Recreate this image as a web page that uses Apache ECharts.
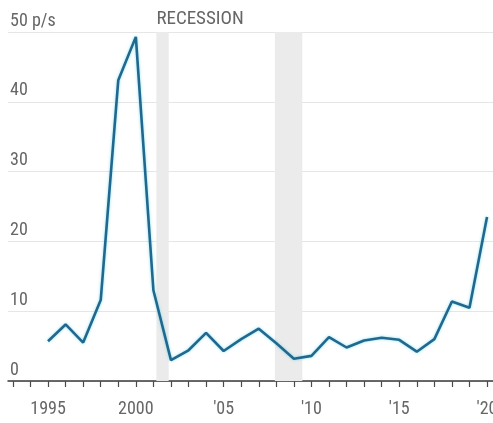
<!DOCTYPE html>
<html>
<head>
<meta charset="utf-8">
<script src="https://cdn.jsdelivr.net/npm/echarts@6/dist/echarts.min.js"></script>
<style>
  html, body { margin: 0; padding: 0; background: #fff; }
  #chart { width: 493px; height: 423px; }
</style>
</head>
<body>
<div id="chart"></div>
<script>
// Annual ratio, 1995-2020
const years = [1995, 1996, 1997, 1998, 1999, 2000, 2001, 2002, 2003, 2004, 2005, 2006, 2007,
               2008, 2009, 2010, 2011, 2012, 2013, 2014, 2015, 2016, 2017, 2018, 2019, 2020];
const ratio = [5.7, 8.1, 5.5, 11.6, 43.1, 49.3, 13.0, 3.0, 4.4, 6.9, 4.3, 6.0, 7.5,
               5.4, 3.2, 3.6, 6.3, 4.8, 5.8, 6.2, 5.9, 4.2, 6.0, 11.4, 10.5, 23.5];

// Recession periods (fractional years)
const recessions = [[2001.17, 2001.87], [2007.92, 2009.48]];

// Axis ticks and labels
const yearTicks = [];
for (let y = 1993; y <= 2020; y++) yearTicks.push(y);
const yearLabels = [1995, 2000, 2005, 2010, 2015, 2020];
const yTicks = [0, 10, 20, 30, 40, 50];

const FONT = '"Roboto Condensed", "Liberation Sans Narrow", sans-serif';

const chart = echarts.init(document.getElementById('chart'), null, { renderer: 'canvas' });

chart.setOption({
  animation: false,
  backgroundColor: '#ffffff',
  grid: { left: 8, right: 0, top: 32, bottom: 42, outerBoundsMode: 'none', containLabel: false },
  xAxis: {
    type: 'value',
    min: 1992.72,
    max: 2020.34,
    axisLine: { show: true, lineStyle: { color: '#3a3a3a', width: 1.5 } },
    axisTick: {
      show: true, length: 6, customValues: yearTicks,
      lineStyle: { color: '#4a4a4a', width: 1.2 }
    },
    axisLabel: {
      customValues: yearLabels,
      margin: 19,
      color: '#666666',
      fontFamily: FONT,
      fontSize: 18,
      hideOverlap: false,
      formatter: v => (v === 1995 || v === 2000) ? String(v) : "'" + String(v).slice(2)
    },
    splitLine: { show: false }
  },
  yAxis: {
    type: 'value',
    min: 0,
    max: 50,
    axisLine: { show: false },
    axisTick: { show: false },
    axisLabel: {
      customValues: yTicks,
      inside: true,
      margin: 2,
      verticalAlign: 'bottom',
      padding: [0, 0, 2, 0],
      color: '#666666',
      fontFamily: FONT,
      fontSize: 18,
      formatter: v => v === 50 ? '50 p/s' : String(v)
    },
    splitLine: { show: true, lineStyle: { color: '#e6e6e6', width: 1 } }
  },
  series: [{
    type: 'line',
    data: years.map((y, i) => [y, ratio[i]]),
    showSymbol: false,
    lineStyle: {
      color: '#22688e',
      width: 2.6,
      shadowColor: 'rgba(40, 200, 230, 0.55)',
      shadowBlur: 3
    },
    z: 5,
    markArea: {
      silent: true,
      itemStyle: { color: '#ebebeb' },
      data: recessions.map((r, i) => [
        {
          xAxis: r[0],
          yAxis: 50,
          label: i === 0 ? {
            show: true,
            formatter: 'RECESSION',
            position: [0, -3],
            align: 'left',
            verticalAlign: 'bottom',
            color: '#666666',
            fontFamily: FONT,
            fontSize: 19
          } : { show: false }
        },
        { xAxis: r[1], yAxis: 0 }
      ])
    }
  }]
});
</script>
</body>
</html>
